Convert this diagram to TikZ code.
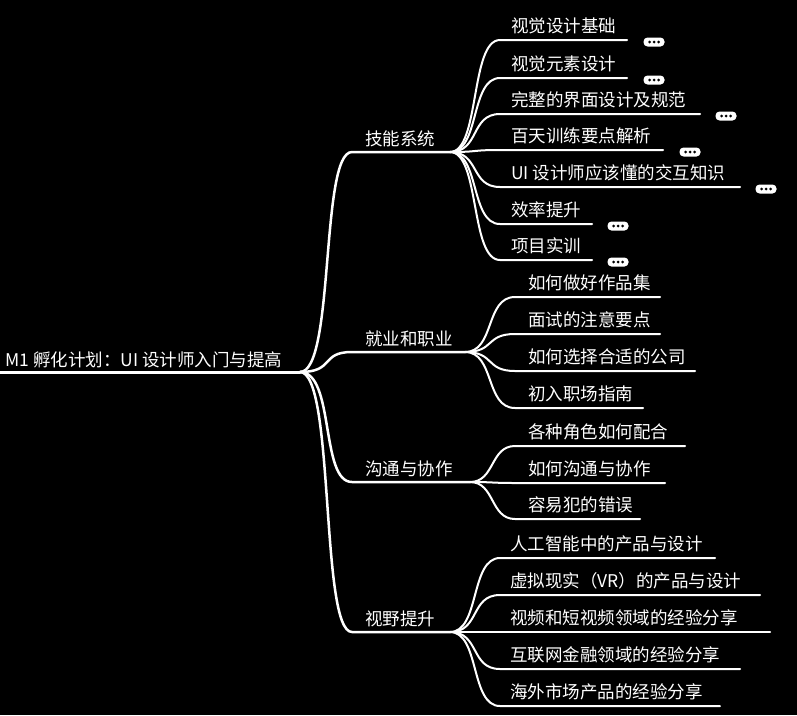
\documentclass[tikz,border=0pt]{standalone}
\usepackage{fontspec}
\newfontfamily\cjk{Noto Sans CJK SC}
\begin{document}
\begin{tikzpicture}[x=1pt,y=-1pt,font=\cjk\fontsize{17.5}{20}\selectfont,
    txt/.style={text=white,anchor=base west,inner sep=0pt},
    pill/.style={fill=white,rounded corners=4pt,minimum width=21pt,minimum height=9pt,inner sep=0pt}]
    \fill[black] (0,0) rectangle (797,715);
    \useasboundingbox (0,0) rectangle (797,715);

    % root
    \node[txt] (root) at (5,366) {M1 孵化计划：UI 设计师入门与提高};
    \coordinate (r) at (300,372);
    \draw[white,line width=3pt,line cap=round] (0,372) -- (r);

    % main branches
    \foreach \name/\t/\y/\x/\e in {skill/技能系统/152/365/450, job/就业和职业/352/365/465,
                                   talk/沟通与协作/482/365/470, view/视野提升/632/365/450}
    {
        \node[txt] (\name) at (\x,\y-7) {\t};
        \coordinate (\name-s) at (352,\y);
        \coordinate (\name-e) at (\e,\y);
        \draw[white,line width=2.5pt,line cap=round] (r) .. controls (335,372) and (320,\y) .. (\name-s) -- (\name-e);
    }

    % leaves of skill
    \foreach \i/\t/\y/\e/\m in {1/视觉设计基础/40/627/654, 2/视觉元素设计/78/627/654,
        3/完整的界面设计及规范/114/700/726, 4/百天训练要点解析/150/663/690,
        5/UI 设计师应该懂的交互知识/187/740/766, 6/效率提升/224/592/618, 7/项目实训/260/592/618}
    {
        \node[txt] (s\i) at (511,\y-8) {\t};
        \coordinate (s\i-e) at (\e,\y);
        \draw[white,line width=2pt,line cap=round] (skill-e) .. controls (480,152) and (470,\y) .. (500,\y) -- (s\i-e);
        \node[pill] (s\i-m) at (\m,\y+2) {};
        \foreach \d in {-4.5,0,4.5}
            \fill[black] ([xshift=\d pt]s\i-m.center) circle (1.5pt);
    }

    % leaves of job
    \foreach \i/\t/\y/\e in {1/如何做好作品集/297/660, 2/面试的注意要点/334/660,
        3/如何选择合适的公司/371/695, 4/初入职场指南/408/643}
    {
        \node[txt] (j\i) at (528,\y-8) {\t};
        \coordinate (j\i-e) at (\e,\y);
        \draw[white,line width=2pt,line cap=round] (job-e) .. controls (495,352) and (485,\y) .. (515,\y) -- (j\i-e);
    }

    % leaves of talk
    \foreach \i/\t/\y/\e in {1/各种角色如何配合/446/685, 2/如何沟通与协作/483/665, 3/容易犯的错误/519/640}
    {
        \node[txt] (t\i) at (528,\y-8) {\t};
        \coordinate (t\i-e) at (\e,\y);
        \draw[white,line width=2pt,line cap=round] (talk-e) .. controls (495,482) and (490,\y) .. (515,\y) -- (t\i-e);
    }

    % leaves of view
    \foreach \i/\t/\y/\e in {1/人工智能中的产品与设计/558/715, 2/虚拟现实（VR）的产品与设计/595/760,
        3/视频和短视频领域的经验分享/632/770, 4/互联网金融领域的经验分享/669/740, 5/海外市场产品的经验分享/706/720}
    {
        \node[txt] (v\i) at (510,\y-8) {\t};
        \coordinate (v\i-e) at (\e,\y);
        \draw[white,line width=2pt,line cap=round] (view-e) .. controls (480,632) and (470,\y) .. (500,\y) -- (v\i-e);
    }
\end{tikzpicture}
\end{document}
